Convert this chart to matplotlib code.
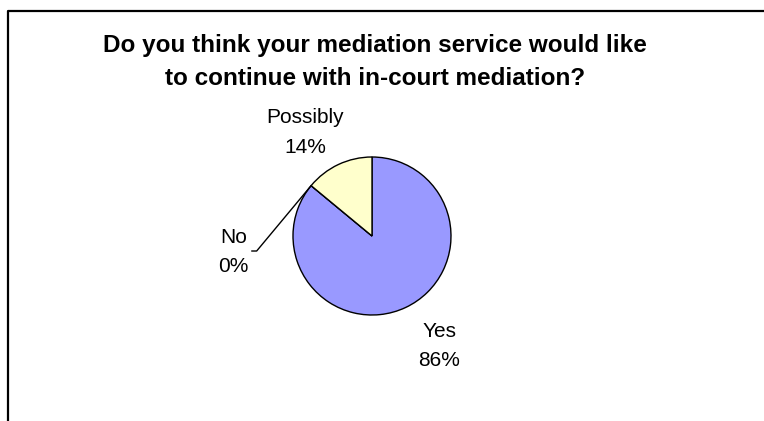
#!/usr/bin/env python3
# -*- coding: utf-8 -*-

import numpy as np
import matplotlib
matplotlib.use("Agg")
import matplotlib.pyplot as plt
from matplotlib.lines import Line2D

# ----------------------------
# Data
# ----------------------------

categories = ["Yes", "No", "Possibly"]
shares = [86, 0, 14]
colors = ["#9999FF", "#FFFFCC", "#FFFFCC"]
title = "Do you think your mediation service would like\nto continue with in-court mediation?"

# label placement (radius units from the pie centre)
label_pos = {"Yes": (0.85, -1.39), "Possibly": (-0.85, 1.31), "No": (-1.75, -0.20)}

plt.rcParams["font.family"] = ["Liberation Sans", "DejaVu Sans"]

W, H = 764, 421
fig = plt.figure(figsize=(W / 100, H / 100), dpi=100)

# chart frame (only top and left edge are in view)
fig.add_artist(Line2D([8 / W, 8 / W, 1.0], [0.0, 1 - 11 / H, 1 - 11 / H],
                      transform=fig.transFigure, color="black", lw=1.6))

fig.text(375 / W, 1 - 62 / H, title, ha="center", va="center",
         fontsize=17.5, fontweight="bold", linespacing=1.58)

# pie axes: centre (372, 236) px, radius 79 px
cx, cy, r = 372, 236, 79
ax = fig.add_axes([(cx - r) / W, (H - cy - r) / H, 2 * r / W, 2 * r / H])
wedges, _ = ax.pie(shares, colors=colors, startangle=90, counterclock=False,
                   radius=1.0, wedgeprops=dict(edgecolor="black", linewidth=1.0))
ax.set_xlim(-1, 1)
ax.set_ylim(-1, 1)
ax.set_aspect("auto")
ax.axis("off")

for cat, val in zip(categories, shares):
    x, y = label_pos[cat]
    ax.text(x, y, f"{cat}\n{val}%", ha="center", va="center", fontsize=15,
            linespacing=1.7, clip_on=False)

# leader line for the zero slice
no_w = wedges[categories.index("No")]
ang = np.deg2rad(no_w.theta1)
ax.plot([np.cos(ang), -1.46, -1.52], [np.sin(ang), -0.19, -0.19],
        color="black", lw=1.0, clip_on=False)

fig.savefig("out.png", dpi=100)
